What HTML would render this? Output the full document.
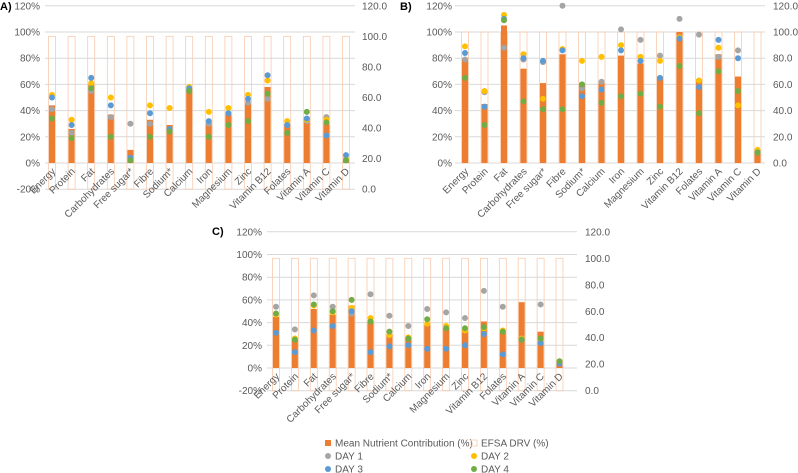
<!DOCTYPE html>
<html><head><meta charset="utf-8"><style>
html,body{margin:0;padding:0;background:#fff;}
svg{display:block;font-family:"Liberation Sans",sans-serif;}
</style></head><body>
<svg id="chart" width="798" height="473" viewBox="0 0 798 473" xmlns="http://www.w3.org/2000/svg"></svg>
<script>
const categories = ["Energy","Protein","Fat","Carbohydrates","Free sugar*","Fibre","Sodium*","Calcium","Iron","Magnesium","Zinc","Vitamin B12","Folates","Vitamin A","Vitamin C","Vitamin D"];
const meanA = [44,26,60,37,10,33,29,56,30,37,45,58,29,35,30,3];
const day1A = [41,23,55,35,30,30,25,56,30,29,46,49,29,32,35,3];
const day2A = [52,33,61,50,3,44,42,58,39,42,52,63,32,33,33,3];
const day3A = [50,29,65,44,4,38,26,57,32,38,49,67,29,34,21,6];
const day4A = [34,19,57,20,2,20,24,55,20,29,32,53,23,39,31,2];
const meanB = [80,45,105,72,61,83,61,61,82,76,66,100,64,83,66,8];
const day1B = [79,54,88,79,77,120,57,62,102,94,82,110,98,81,86,9];
const day2B = [89,55,113,83,49,87,78,81,90,81,78,96,63,88,44,10];
const day3B = [84,43,110,80,78,86,51,56,86,78,65,95,58,94,80,8];
const day4B = [65,29,109,47,41,41,60,46,51,53,43,74,38,70,55,8];
const meanC = [45,25,52,47,55,41,30,27,38,35,32,41,32,58,32,4];
const day1C = [54,34,64,54,48,65,46,37,52,49,44,68,54,null,56,5];
const day2C = [47,26,55,49,53,44,29,27,39,37,33,35,33,26,25,5];
const day3C = [31,14,33,37,50,14,19,20,17,17,20,30,12,25,22,4];
const day4C = [48,25,56,50,60,41,32,26,43,35,35,36,32,25,26,6];
const drvValue = 100;
const leftTicks = [-20,0,20,40,60,80,100,120];
const rightTicks = [0,20,40,60,80,100,120];

const NS="http://www.w3.org/2000/svg";
const svg=document.getElementById('chart');
function mk(tag,attrs,parent){const e=document.createElementNS(NS,tag);for(const k in attrs)e.setAttribute(k,attrs[k]);(parent||svg).appendChild(e);return e;}
const COLORS={d1:"#A5A5A5",d2:"#FFC000",d3:"#5B9BD5",d4:"#70AD47",bar:"#ED7D31",box:"#F8CBAD",grid:"#D9D9D9",txt:"#595959"};

function panel(cfg){
  const g=mk('g',{});
  
  
  const y=p=>cfg.y0-p*cfg.k;
  const x=i=>cfg.x0+i*cfg.step;
  const yr=r=>y(cfg.rMin+r*(120-cfg.rMin)/120);
  const t=mk('text',{x:cfg.tx,y:cfg.ty,'font-size':11,'font-weight':'bold',fill:'#000'},g);
  t.textContent=cfg.id.toUpperCase()+')';
  
  
  leftTicks.forEach(v=>{
    if(v<cfg.lMin)return;
    const ln=mk('line',{x1:cfg.gl,x2:cfg.gr,y1:y(v),y2:y(v),stroke:COLORS.grid,'stroke-width':1},g);
    
    
    const lt=mk('text',{x:cfg.lx,y:y(v)+3.5,'font-size':10,fill:COLORS.txt,'text-anchor':'end'},g);
    lt.textContent=v+'%';
    
    
  });
  rightTicks.forEach(v=>{
    const rt=mk('text',{x:cfg.rx,y:yr(v)+3.5,'font-size':10,fill:COLORS.txt},g);
    rt.textContent=v.toFixed(1);
    
    
  });
  categories.forEach((c,i)=>{
    const cx=x(i);
    const top=yr(drvValue), bot=yr(0);
    const box=mk('rect',{x:cx-3.5,y:top,width:7,height:bot-top,fill:'none',stroke:COLORS.box,'stroke-width':0.8},g);
    
    
    const m=cfg.mean[i];
    const bar=mk('rect',{x:cx-3,y:y(m),width:6,height:cfg.y0-y(m),fill:COLORS.bar},g);
    
    
    const lab=mk('text',{transform:`translate(${cx+4},${cfg.y0+9}) rotate(-45)`,'font-size':10,fill:COLORS.txt,'text-anchor':'end'},g);
    lab.textContent=c;
    
    
  });
  [['d1',cfg.d1],['d2',cfg.d2],['d3',cfg.d3],['d4',cfg.d4]].forEach(([k,arr])=>{
    arr.forEach((v,i)=>{
      if(v==null)return;
      const d=mk('circle',{cx:x(i),cy:y(v),r:3,fill:COLORS[k]},g);
      
      
    });
  });
}
panel({id:'a',x0:52,step:19.6,y0:163,k:1.31,lMin:-20,rMin:-20,gl:45,gr:355,lx:40,rx:362,tx:0,ty:10,mean:meanA,d1:day1A,d2:day2A,d3:day3A,d4:day4A});
panel({id:'b',x0:465,step:19.5,y0:163,k:1.31,lMin:0,rMin:0,gl:455,gr:765,lx:452,rx:773,tx:400,ty:10,mean:meanB,d1:day1B,d2:day2B,d3:day3B,d4:day4B});
panel({id:'c',x0:276,step:18.9,y0:368,k:1.135,lMin:-20,rMin:-20,gl:267,gr:577,lx:262,rx:585,tx:212,ty:235,mean:meanC,d1:day1C,d2:day2C,d3:day3C,d4:day4C});

const lg=mk('g',{});


const items=[
 ['sq',COLORS.bar,'Mean Nutrient Contribution (%)',328,443],
 ['box',COLORS.box,'EFSA DRV (%)',474,443],
 ['dot',COLORS.d1,'DAY 1',328,456],
 ['dot',COLORS.d2,'DAY 2',474,456],
 ['dot',COLORS.d3,'DAY 3',328,469],
 ['dot',COLORS.d4,'DAY 4',474,469]];
items.forEach(([t,c,l,lx,ly])=>{
  if(t==='sq')mk('rect',{x:lx-3,y:ly-3,width:6,height:6,fill:c},lg);
  else if(t==='box')mk('rect',{x:lx-3,y:ly-3,width:6,height:6,fill:'none',stroke:c,'stroke-width':0.8},lg);
  else mk('circle',{cx:lx,cy:ly,r:3,fill:c},lg);
  const tx=mk('text',{x:lx+7,y:ly+3.5,'font-size':10,fill:COLORS.txt},lg);
  tx.textContent=l;
  
  
});
</script>
</body></html>
